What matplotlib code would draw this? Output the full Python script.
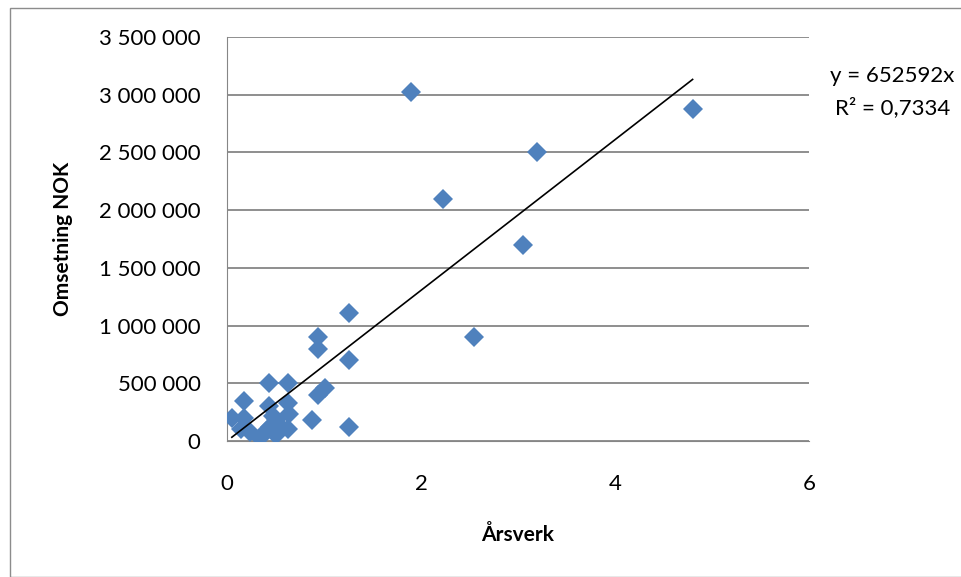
import matplotlib.pyplot as plt
import matplotlib.ticker as ticker
from matplotlib.patches import Rectangle

# Årsverk (x) og omsetning (y), lest av figuren
arsverk = [1.9, 4.8, 3.2, 2.23, 3.05, 2.55, 1.26, 1.26, 1.26,
           0.94, 0.94, 1.01, 0.94, 0.88,
           0.43, 0.63, 0.18, 0.05, 0.43, 0.63, 0.64, 0.18, 0.14,
           0.24, 0.34, 0.44, 0.47, 0.5, 0.63, 0.55, 0.4, 0.5]
omsetning = [3020000, 2880000, 2500000, 2100000, 1700000, 900000, 1110000, 700000, 120000,
             900000, 800000, 460000, 400000, 180000,
             500000, 500000, 350000, 200000, 300000, 330000, 230000, 200000, 100000,
             80000, 30000, 120000, 220000, 180000, 100000, 130000, 90000, 50000]

stigning = 652592
r2_tekst = "R² = 0,7334"

plt.rcParams['font.family'] = ['Lato', 'DejaVu Sans']

fig = plt.figure(figsize=(9.61, 5.77), dpi=100)
ax = fig.add_axes([227 / 961, 1 - 441 / 577, (809 - 227) / 961, (441 - 37) / 577])

# ramme rundt diagrammet
fig.patches.append(Rectangle((10 / 961, 0), 1, 1 - 8 / 577, transform=fig.transFigure,
                             fill=False, edgecolor='#8c8c8c', linewidth=1))

ax.plot(arsverk, omsetning, 'D', color='#4f81bd', markersize=10.5, markeredgewidth=0, zorder=3)

xmin, xmax = min(arsverk), max(arsverk)
ax.plot([xmin, xmax], [stigning * xmin, stigning * xmax], color='black', linewidth=1.2, zorder=4)

ax.set_xlim(0, 6)
ax.set_ylim(0, 3500000)
ax.xaxis.set_major_locator(ticker.MultipleLocator(2))
ax.yaxis.set_major_locator(ticker.MultipleLocator(500000))
ax.yaxis.set_major_formatter(ticker.FuncFormatter(lambda v, p: '{:,.0f}'.format(v).replace(',', ' ')))

ax.grid(axis='y', color='#868686', linewidth=1.3)
ax.set_axisbelow(True)
for s in ['top', 'right']:
    ax.spines[s].set_visible(False)
ax.spines['left'].set_color('#868686')
ax.spines['bottom'].set_color('#868686')
ax.tick_params(axis='both', length=0, labelsize=16)
ax.tick_params(axis='y', pad=19)
ax.tick_params(axis='x', pad=24)

ax.set_xlabel('Årsverk', fontsize=15, fontweight='bold', labelpad=22)
ax.set_ylabel('Omsetning NOK', fontsize=15, fontweight='bold', labelpad=19)

fig.text(830 / 961, 1 - 76 / 577, 'y = {}x'.format(stigning), fontsize=16, va='center')
fig.text(835 / 961, 1 - 108 / 577, r2_tekst, fontsize=16, va='center')

fig.savefig('out.png', dpi=100)
